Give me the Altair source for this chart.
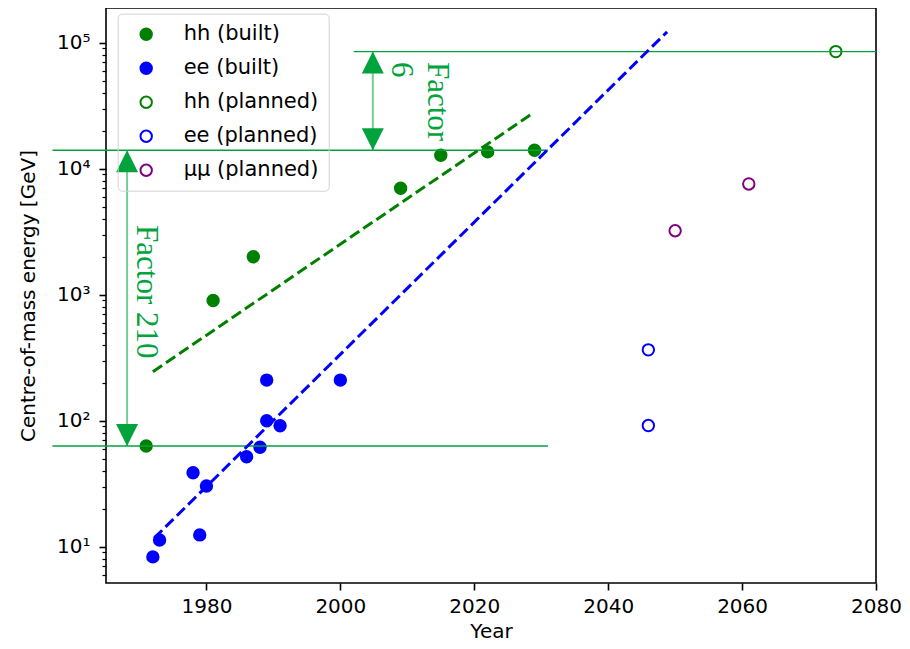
import altair as alt
import pandas as pd

# ---------------- data ----------------
hh_built_year = [1971, 1981, 1987, 2009, 2015, 2022, 2029]
hh_built_e = [63, 900, 2000, 7000, 12800, 13600, 14000]

ee_built_year = [1972, 1973, 1978, 1979, 1980, 1986, 1988, 1989, 1989, 1991, 2000]
ee_built_e = [8.3, 11.3, 38.6, 12.4, 30.3, 51.8, 61.5, 100, 210, 91.2, 210]

hh_plan_year = [2074]
hh_plan_e = [85000]

ee_plan_year = [2046, 2046]
ee_plan_e = [365, 91.5]

mumu_plan_year = [2050, 2061]
mumu_plan_e = [3220, 7570]

series_names = ["hh (built)", "ee (built)", "hh (planned)", "ee (planned)", "μμ (planned)"]
series_stroke = ["green", "blue", "green", "blue", "purple"]
series_fill = ["green", "blue", "transparent", "transparent", "transparent"]

# exponential fits (end points of dashed lines)
fit_hh_year = [1972, 2028.5]
fit_hh_e = [245, 27000]
fit_ee_year = [1972.2, 2048.8]
fit_ee_e = [11.7, 122000]

# reference levels (horizontal lines)
level_e = [63, 14000, 85000]
level_from = [1957, 1957, 2002]
level_to = [2031, 2031, 2080]

# double arrows
arrow_year = [1968.15, 2004.85]
arrow_lo = [63, 14000]
arrow_hi = [14000, 85000]

# annotation texts
note_text = ["Factor 210", "Factor\n6"]
note_year = [1971.0, 2014.5]
note_e = [3570, 70300]

x_ticks = [1980, 2000, 2020, 2040, 2060, 2080]
y_major = [10, 100, 1000, 10000, 100000]

X_DOMAIN = [1965, 2080]
Y_DOMAIN = [5.15, 188600]

GREEN = "#00a33c"

# ---------------- frames ----------------
rows = []
for name, yrs, es in [
    ("hh (built)", hh_built_year, hh_built_e),
    ("ee (built)", ee_built_year, ee_built_e),
    ("hh (planned)", hh_plan_year, hh_plan_e),
    ("ee (planned)", ee_plan_year, ee_plan_e),
    ("μμ (planned)", mumu_plan_year, mumu_plan_e),
]:
    for yv, ev in zip(yrs, es):
        rows.append({"series": name, "year": yv, "energy": ev})
points = pd.DataFrame(rows)

fit_hh = pd.DataFrame({"year": fit_hh_year, "energy": fit_hh_e})
fit_ee = pd.DataFrame({"year": fit_ee_year, "energy": fit_ee_e})
levels = pd.DataFrame({"energy": level_e, "x0": level_from, "x1": level_to})
arrows = pd.DataFrame({"year": arrow_year, "lo": arrow_lo, "hi": arrow_hi})
notes = pd.DataFrame({"text": note_text, "year": note_year, "energy": note_e})

minor_vals = [m * 10 ** e for e in range(0, 6) for m in range(1, 10)]
y_tick_vals = [v for v in minor_vals if Y_DOMAIN[0] <= v <= Y_DOMAIN[1]]

sup = {10: "10¹", 100: "10²", 1000: "10³", 10000: "10⁴", 100000: "10⁵"}
label_expr = " : ".join(
    [f"datum.value == {k} ? '{v}'" for k, v in sup.items()]
) + " : ''"
major_test = "indexof([10,100,1000,10000,100000], datum.value) >= 0"

xscale = alt.Scale(domain=X_DOMAIN, nice=False, zero=False)
yscale = alt.Scale(type="log", domain=Y_DOMAIN, nice=False)

x_axis = alt.Axis(
    values=x_ticks, format="d", title="Year", grid=False, domain=False,
    labelFontSize=20, titleFontSize=20, labelPadding=6, titlePadding=5,
    tickSize=7, tickWidth=1.6, tickColor="black", labelColor="black",
    titleColor="black", titleFontWeight="normal", labelFlush=False,
)
y_axis = alt.Axis(
    values=y_tick_vals, labelExpr=label_expr, title="Centre-of-mass energy [GeV]",
    grid=False, domain=False, labelOverlap=False,
    labelFontSize=20, titleFontSize=20, labelPadding=9, titlePadding=18,
    tickSize={"condition": {"test": major_test, "value": 7}, "value": 4},
    tickWidth={"condition": {"test": major_test, "value": 1.6}, "value": 1.2},
    tickColor="black", labelColor="black", titleColor="black",
    titleFontWeight="normal",
)

X = alt.X("year:Q", scale=xscale, axis=x_axis)
Y = alt.Y("energy:Q", scale=yscale, axis=y_axis)

level_layer = alt.Chart(levels).mark_rule(color=GREEN, strokeWidth=1.4, clip=False).encode(
    x=alt.X("x0:Q", scale=xscale), x2="x1:Q", y=alt.Y("energy:Q", scale=yscale)
)

shaft_layer = alt.Chart(arrows).mark_rule(color=GREEN, strokeWidth=2, opacity=0.55).encode(
    x=alt.X("year:Q", scale=xscale), y=alt.Y("lo:Q", scale=yscale), y2="hi:Q"
)
head_up = alt.Chart(arrows).mark_point(
    shape="M0,0L-1,2L1,2Z", size=484, filled=True, color=GREEN, opacity=1, strokeWidth=0
).encode(x=alt.X("year:Q", scale=xscale), y=alt.Y("hi:Q", scale=yscale))
head_down = alt.Chart(arrows).mark_point(
    shape="M0,0L-1,-2L1,-2Z", size=484, filled=True, color=GREEN, opacity=1, strokeWidth=0
).encode(x=alt.X("year:Q", scale=xscale), y=alt.Y("lo:Q", scale=yscale))

legend = alt.Legend(
    title=None, orient="none", legendX=11.7, legendY=5.7,
    labelFontSize=21, labelColor="black", symbolType="circle",
    symbolSize=130, symbolStrokeWidth=2, rowPadding=12, padding=10,
    symbolOffset=8, labelOffset=27, strokeColor="#d3d3d3",
    fillColor="rgba(255,255,255,0)", cornerRadius=4, labelLimit=300,
)

point_layer = alt.Chart(points).mark_point(
    shape="circle", size=130, strokeWidth=2, opacity=1
).encode(
    x=X, y=Y,
    stroke=alt.Stroke("series:N", scale=alt.Scale(domain=series_names, range=series_stroke),
                      legend=legend, sort=series_names),
    fill=alt.Fill("series:N", scale=alt.Scale(domain=series_names, range=series_fill),
                  legend=legend, sort=series_names),
)

fit_hh_layer = alt.Chart(fit_hh).mark_line(
    color="green", strokeWidth=3, strokeDash=[11.1, 4.8]
).encode(x=alt.X("year:Q", scale=xscale), y=alt.Y("energy:Q", scale=yscale))
fit_ee_layer = alt.Chart(fit_ee).mark_line(
    color="blue", strokeWidth=3, strokeDash=[11.1, 4.8]
).encode(x=alt.X("year:Q", scale=xscale), y=alt.Y("energy:Q", scale=yscale))

note_layer = alt.Chart(notes).mark_text(
    font="Liberation Serif", fontSize=31, angle=90, align="left", baseline="middle",
    color=GREEN, lineBreak="\n", lineHeight=36,
).encode(x=alt.X("year:Q", scale=xscale), y=alt.Y("energy:Q", scale=yscale), text="text:N")

chart = alt.layer(
    point_layer, level_layer, shaft_layer, head_up, head_down,
    fit_hh_layer, fit_ee_layer, note_layer,
).properties(
    width=770, height=575,
    autosize=alt.AutoSizeParams(type="none"),
    padding={"left": 98, "top": 0, "right": 26, "bottom": 58},
    background="white",
).configure(
    font="DejaVu Sans",
    view=alt.ViewConfig(stroke="black", strokeWidth=1.6),
)

chart.save("out.html", embed_options={"renderer": "svg", "actions": False})
